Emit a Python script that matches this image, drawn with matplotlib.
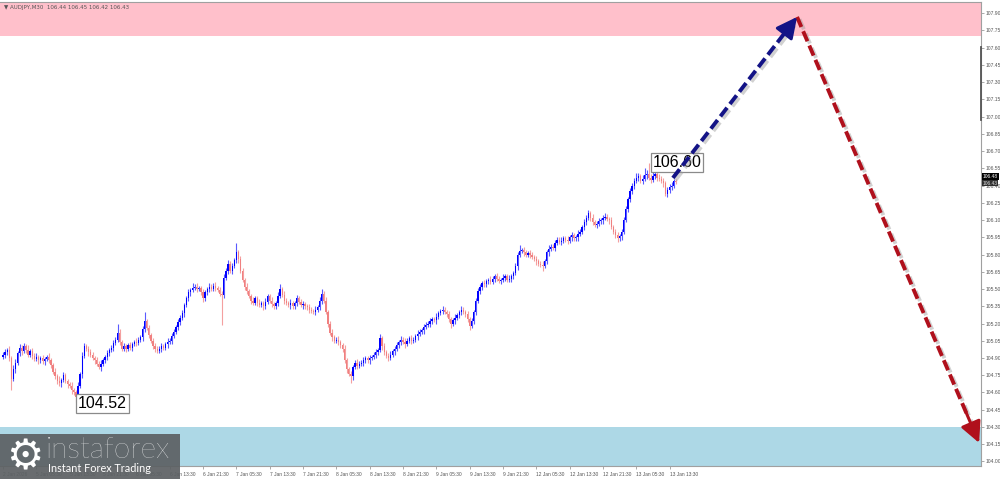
import matplotlib
matplotlib.use("Agg")
import matplotlib.pyplot as plt
from matplotlib.lines import Line2D
from matplotlib.patches import Rectangle
import numpy as np

# ---------------- data ----------------
symbol_header = "\u25BC AUDJPY,M30  106.44 106.45 106.42 106.43"

first_open = 104.91
closes = [
    104.93, 104.95, 104.97, 104.90, 104.72, 104.80, 104.86, 104.94, 104.99, 104.96, 105.00, 104.97, 104.93, 104.96, 104.92, 104.89,
    104.91, 104.88, 104.90, 104.87, 104.89, 104.91, 104.88, 104.84, 104.78, 104.74, 104.70, 104.68, 104.71, 104.75, 104.70, 104.67,
    104.66, 104.62, 104.60, 104.56, 104.66, 104.76, 104.92, 105.00, 104.98, 104.95, 104.93, 104.90, 104.88, 104.85, 104.82, 104.85,
    104.88, 104.91, 104.94, 104.97, 104.99, 105.03, 105.06, 105.12, 105.04, 104.98, 105.00, 104.98, 105.01, 104.99, 105.02, 105.04,
    105.03, 105.06, 105.08, 105.15, 105.22, 105.16, 105.10, 105.05, 105.00, 104.98, 104.96, 104.98, 105.00, 104.99, 105.02, 105.04,
    105.05, 105.09, 105.13, 105.17, 105.21, 105.25, 105.29, 105.36, 105.42, 105.47, 105.49, 105.51, 105.52, 105.50, 105.51, 105.47,
    105.42, 105.47, 105.50, 105.52, 105.50, 105.53, 105.51, 105.49, 105.46, 105.45, 105.60, 105.66, 105.72, 105.66, 105.70, 105.75,
    105.82, 105.76, 105.66, 105.58, 105.52, 105.48, 105.44, 105.40, 105.38, 105.42, 105.38, 105.36, 105.38, 105.35, 105.39, 105.44,
    105.40, 105.37, 105.35, 105.38, 105.44, 105.50, 105.45, 105.40, 105.38, 105.36, 105.38, 105.35, 105.38, 105.42, 105.39, 105.36,
    105.37, 105.35, 105.34, 105.32, 105.31, 105.30, 105.32, 105.34, 105.40, 105.46, 105.40, 105.30, 105.20, 105.12, 105.08, 105.05,
    105.06, 105.04, 105.01, 104.98, 104.88, 104.80, 104.76, 104.74, 104.82, 104.86, 104.83, 104.85, 104.86, 104.88, 104.90, 104.88,
    104.90, 104.91, 104.93, 104.95, 104.97, 105.07, 105.00, 104.95, 104.92, 104.90, 104.93, 104.96, 104.98, 105.01, 105.04, 105.06,
    105.04, 105.02, 105.05, 105.07, 105.05, 105.06, 105.09, 105.11, 105.13, 105.14, 105.17, 105.19, 105.20, 105.22, 105.24, 105.23,
    105.26, 105.29, 105.31, 105.32, 105.30, 105.28, 105.24, 105.20, 105.23, 105.25, 105.27, 105.30, 105.32, 105.30, 105.28, 105.24,
    105.18, 105.22, 105.30, 105.40, 105.48, 105.52, 105.55, 105.54, 105.57, 105.58, 105.56, 105.59, 105.61, 105.59, 105.57, 105.58,
    105.60, 105.61, 105.58, 105.59, 105.61, 105.64, 105.70, 105.80, 105.83, 105.84, 105.82, 105.80, 105.81, 105.80, 105.78, 105.76,
    105.74, 105.72, 105.71, 105.70, 105.74, 105.82, 105.85, 105.87, 105.86, 105.90, 105.93, 105.91, 105.92, 105.94, 105.93, 105.92,
    105.95, 105.97, 105.94, 105.95, 105.98, 106.00, 106.04, 106.08, 106.12, 106.16, 106.12, 106.08, 106.06, 106.07, 106.09, 106.10,
    106.12, 106.13, 106.11, 106.10, 106.04, 106.00, 105.97, 105.94, 105.96, 106.00, 106.10, 106.20, 106.28, 106.35, 106.40, 106.44,
    106.47, 106.48, 106.44, 106.46, 106.49, 106.50, 106.47, 106.45, 106.48, 106.50, 106.47, 106.46, 106.44, 106.42, 106.33, 106.36,
    106.39, 106.40, 106.44, 106.43,
]
# upper / lower wick lengths in pips (0.01)
up_wick = [
    2,3,2,3,2,4,3,2,3,2,3,2,4,2,3,2,
    3,2,2,3,2,2,3,2,2,3,2,4,2,3,2,2,
    2,3,2,2,3,2,3,3,2,2,3,2,2,3,2,3,
    2,2,3,2,2,3,2,8,3,2,3,2,2,3,2,2,
    3,2,2,3,8,2,3,2,2,3,2,2,3,2,2,3,
    2,3,2,2,3,2,3,2,2,3,2,4,2,3,2,2,
    3,2,2,3,2,2,3,2,3,2,3,2,3,2,3,2,
    8,2,3,2,2,3,2,2,3,2,2,3,2,2,3,2,
    2,3,2,2,3,4,2,3,2,2,3,2,2,3,2,2,
    3,2,2,3,2,2,3,2,3,4,2,3,2,2,3,2,
    2,3,2,2,3,2,2,3,2,2,3,2,2,3,2,2,
    3,2,2,3,2,4,2,3,2,2,3,2,2,3,2,3,
    2,3,2,2,3,2,2,3,2,2,3,2,2,3,2,2,
    3,2,2,3,2,2,3,2,2,3,2,2,3,2,2,3,
    2,3,2,2,3,2,2,3,2,2,3,2,2,3,2,2,
    3,2,2,3,2,2,3,2,5,2,3,2,2,3,2,2,
    3,2,2,3,2,2,3,2,2,3,2,2,3,2,2,3,
    2,3,2,2,3,2,2,3,2,3,2,3,2,2,3,2,
    2,3,2,2,3,2,2,3,2,2,3,2,2,3,2,3,
    4,3,2,3,6,4,10,3,4,2,5,3,2,3,2,3,
    2,3,2,2,
]
dn_wick = [
    2,3,2,3,10,2,3,2,2,3,2,3,2,2,3,2,
    2,3,2,2,3,2,2,3,2,2,3,2,3,2,2,3,
    2,3,2,4,2,2,3,2,2,3,2,2,3,2,2,3,
    2,2,3,2,2,3,2,2,3,2,2,3,2,2,3,2,
    3,2,2,3,2,2,3,2,2,3,2,2,3,2,2,3,
    2,3,2,2,3,2,2,3,2,2,3,2,2,3,2,2,
    3,2,2,3,2,2,3,2,2,26,3,2,3,2,3,2,
    2,3,2,2,3,2,2,3,2,2,3,2,2,3,2,2,
    2,3,2,2,3,2,2,3,2,2,3,2,2,3,2,2,
    3,2,2,3,2,2,3,2,2,3,2,2,3,2,3,2,
    2,3,2,3,2,3,2,6,3,2,3,2,2,3,2,2,
    3,2,2,3,2,2,3,2,2,3,2,2,3,2,2,3,
    2,3,2,2,3,2,2,3,2,2,3,2,2,3,2,2,
    3,2,2,3,2,2,3,4,2,3,2,2,3,2,2,3,
    4,2,2,3,2,2,3,2,2,3,2,2,3,2,2,3,
    2,3,2,2,3,2,2,3,2,2,3,2,2,3,2,2,
    3,2,2,4,2,2,3,2,2,3,2,2,3,2,2,3,
    2,3,2,2,3,2,2,3,2,2,3,2,2,3,2,2,
    3,2,2,3,2,2,3,3,2,3,2,2,3,2,2,3,
    2,3,2,3,2,3,2,3,2,2,3,2,2,3,2,3,
    2,3,2,2,
]
time_labels = ["2 Jan 2026", "5 Jan 05:30", "5 Jan 13:30", "5 Jan 21:30", "6 Jan 05:30",
               "6 Jan 13:30", "6 Jan 21:30", "7 Jan 05:30", "7 Jan 13:30", "7 Jan 21:30",
               "8 Jan 05:30", "8 Jan 13:30", "8 Jan 21:30", "9 Jan 05:30", "9 Jan 13:30",
               "9 Jan 21:30", "12 Jan 05:30", "12 Jan 13:30", "12 Jan 21:30", "13 Jan 05:30",
               "13 Jan 13:30"]
bars_per_label = 16
price_ticks = [104.00, 104.15, 104.30, 104.45, 104.60, 104.75, 104.90, 105.05, 105.20, 105.35,
               105.50, 105.65, 105.80, 105.95, 106.10, 106.25, 106.40, 106.55, 106.70, 106.85,
               107.00, 107.15, 107.30, 107.45, 107.60, 107.75, 107.90]
resistance_zone = (107.70, 108.5)
support_zone = (103.0, 104.30)
low_label = (35, 104.52, "104.52")
high_label = (310, 106.60, "106.60")
bid, ask = 106.43, 106.48
# forecast path: (bar index, price)
forecast_up = [(321.6, 106.467), (381.2, 107.868)]
forecast_down = [(381.2, 107.868), (468.6, 104.161)]

# ---------------- figure ----------------
W, H = 1000, 479
fig = plt.figure(figsize=(W / 100, H / 100), dpi=100)
fig.patch.set_facecolor("white")
ax = fig.add_axes([0, 13 / H, 981 / W, (477 - 13) / H])
ax.set_facecolor("white")

closes_a = np.array(closes)
opens_a = np.concatenate([[first_open], closes_a[:-1]])
idx = np.arange(len(closes_a))
highs = np.maximum(opens_a, closes_a) + np.array(up_wick) / 100.0
lows = np.minimum(opens_a, closes_a) - np.array(dn_wick) / 100.0
bull = closes_a >= opens_a
body_col = np.where(bull, "#0000ff", "#f08080")
wick_col = np.where(bull, "#5a5aff", "#f4a0a0")

ax.axhspan(*resistance_zone, color="#ffc0cb", zorder=0, lw=0)
ax.axhspan(*support_zone, color="#add8e6", zorder=0, lw=0)

ax.vlines(idx, lows, highs, colors=wick_col, lw=0.8, zorder=2)
heights = np.maximum(np.abs(closes_a - opens_a), 0.006)
ax.bar(idx, heights, bottom=np.minimum(opens_a, closes_a), width=0.6,
       color=body_col, lw=0, zorder=3)

ax.set_xlim(-1.44, 469.5)
ax.set_ylim(103.96, 107.998)

# price labels
lab_font = dict(family=["Liberation Sans", "DejaVu Sans"], fontsize=11.5, color="black")
box = dict(boxstyle="square,pad=0.12", facecolor="white", edgecolor="#8a8a8a", lw=0.9)
ax.text(low_label[0] + 12.8, low_label[1] - 0.015, low_label[2], ha="center", va="center",
        bbox=box, zorder=6, **lab_font)
ax.text(high_label[0] + 13.6, high_label[1], high_label[2], ha="center", va="center",
        bbox=box, zorder=6, **lab_font)


def draw_arrow(pts, color):
    (x0, y0), (x1, y1) = pts
    # shadow
    dx, dy = 1.2, -0.02
    ax.plot([x0 + dx, x1 + dx - (x1 - x0) * 0.04], [y0 + dy, y1 + dy - (y1 - y0) * 0.04],
            color="#9a9a9a", lw=2.8, dashes=(2.8, 1.2), alpha=0.45, zorder=7,
            solid_capstyle="butt", dash_capstyle="butt")
    frac = 0.93
    xm, ym = x0 + (x1 - x0) * frac, y0 + (y1 - y0) * frac
    ax.plot([x0, xm], [y0, ym], color=color, lw=2.8, dashes=(2.8, 1.2), zorder=8,
            dash_capstyle="butt")
    ax.annotate("", xy=(x1, y1), xytext=(xm, ym),
                arrowprops=dict(arrowstyle="-|>,head_length=0.9,head_width=0.45",
                                color=color, lw=2.2, mutation_scale=14,
                                shrinkA=0, shrinkB=0), zorder=9)


draw_arrow(forecast_up, "#131386")
draw_arrow(forecast_down, "#b0101c")

# axes styling
ax.spines["left"].set_visible(False)
for s in ["right", "bottom", "top"]:
    ax.spines[s].set_color("#a0a0a0")
    ax.spines[s].set_linewidth(0.8)

small = ["Liberation Sans", "DejaVu Sans"]
ax.yaxis.tick_right()
ax.set_yticks(price_ticks)
ax.set_yticklabels([f"{v:.2f}" for v in price_ticks], family=small)
ax.tick_params(axis="y", direction="out", length=2, width=0.5, colors="#888888",
               labelsize=3.6, labelcolor="#555555", pad=1.2)

xt = [k * bars_per_label for k in range(len(time_labels))]
ax.set_xticks(xt)
ax.set_xticklabels(time_labels, ha="left", family=small)
ax.tick_params(axis="x", direction="out", length=2.5, width=0.5, colors="#888888",
               labelsize=3.5, labelcolor="#555555", pad=2)

# bid / ask boxes
ytr = ax.get_yaxis_transform()
ax.text(1.002, ask, f"{ask:.2f}", transform=ytr, fontsize=3.5, color="white", ha="left",
        va="center", family=small, bbox=dict(boxstyle="square,pad=0.15", fc="black", ec="none"),
        zorder=10, clip_on=False)
ax.text(1.002, bid - 0.01, f"{bid:.2f}", transform=ytr, fontsize=3.5, color="#dddddd", ha="left",
        va="center", family=small, bbox=dict(boxstyle="square,pad=0.1", fc="#303030", ec="none"),
        zorder=9, clip_on=False)

# scroll indicator on the price scale
fig.add_artist(Line2D([981 / W, 981 / W], [1 - 47 / H, 1 - 120 / H], color="#555555", lw=1.3))

# header
fig.text(4 / W, 1 - 7 / H, symbol_header, fontsize=4.0, color="#555555", va="center", ha="left",
         family=["DejaVu Sans"])

# logo
fig.add_artist(Rectangle((0, 0), 180 / W, 45 / H, transform=fig.transFigure,
                         facecolor="#5c6063", alpha=0.92, edgecolor="none", zorder=20))
fig.text(25 / W, 1 - 457 / H, "\u2699", fontsize=30, color="white", ha="center", va="center",
         family="DejaVu Sans", zorder=21)
fig.text(46 / W, 1 - 450 / H, "instaforex", fontsize=21.5, color="white", ha="left", va="center",
         family=["Lato", "DejaVu Sans"], fontweight="light", zorder=21)
fig.text(48 / W, 1 - 469 / H, "Instant Forex Trading", fontsize=7.8, color="white", ha="left",
         va="center", family=["Lato", "DejaVu Sans"], zorder=21)

fig.savefig("out.png", dpi=100, facecolor="white")
